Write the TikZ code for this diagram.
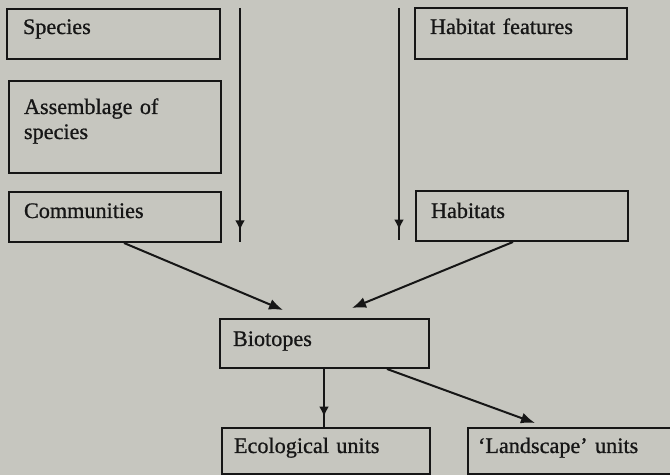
\documentclass[tikz,border=0pt]{standalone}
\usepackage{fontspec}
\usepackage{tikz}
\usetikzlibrary{arrows.meta,calc,decorations.markings}
\newfontfamily\unitfont{Liberation Serif}[FakeBold=0.8]
\definecolor{paper}{RGB}{198,198,191}
\definecolor{ink}{RGB}{22,22,22}
\tikzset{
  unitbox/.style={draw=ink, line width=1pt, anchor=north west, align=left,
    inner ysep=0pt, inner xsep=7.5pt, text width=91pt,
    text height=13pt, text depth=12pt, text=ink,
    font=\unitfont\fontsize{11.1}{12.5}\selectfont},
  flow/.style={draw=ink, line width=1pt, -{Latex[length=7pt,width=5.5pt]}},
  midflow/.style={draw=ink, line width=1pt, postaction={decorate},
    decoration={markings, mark=at position #1 with {\arrow{Latex[length=5pt,width=5pt]}}}}
}
\begin{document}
\begin{tikzpicture}[x=0.5pt,y=-0.5pt]
\fill[paper] (0,0) rectangle (670,475);
\useasboundingbox (0,0) rectangle (670,475);

% biological side
\node[unitbox, inner xsep=8pt, text width=90.5pt, text height=12.5pt, text depth=12.5pt] (species) at (6,8) {Species};
\node[unitbox, text height=16.5pt, text depth=29.5pt] (assem) at (8,80) {Assemblage of\\species};
\node[unitbox] (comm) at (8,191) {Communities};

% physical side
\node[unitbox, text depth=12.5pt] (habf) at (414,7) {Habitat features};
\node[unitbox, text height=13.5pt, text depth=11.5pt] (habs) at (415,190) {Habitats};

% combined units
\node[unitbox, inner xsep=6.5pt, text width=91.5pt, text height=13.5pt, text depth=11pt] (bio) at (219,318) {Biotopes};
\node[unitbox, inner xsep=6pt, text width=92pt, text height=12.5pt, text depth=10.5pt] (eco) at (221,427) {Ecological units};
\node[unitbox, inner xsep=5pt, text width=100pt, text height=12.5pt, text depth=10.5pt] (land) at (467,427) {‘Landscape’ units};

% scale lines
\coordinate (ltop) at (240,8);
\coordinate (lbot) at (240,242);
\coordinate (rtop) at (399,8);
\coordinate (rbot) at (399,240);
\draw[midflow=0.95] (ltop) -- (lbot);
\draw[midflow=0.955] (rtop) -- (rbot);

% arrows
\draw[flow] ($(comm.south)+(9,0)$) -- ($(bio.north west)+(64,-8)$);
\draw[flow] ($(habs.south)+(-9,0)$) -- ($(bio.north west)+(133,-10)$);
\draw[midflow=0.82] ($(bio.south west)+(105,0)$) -- ($(eco.north west)+(103,0)$);
\draw[flow] ($(bio.south west)+(168,0)$) -- ($(land.north west)+(68,-4)$);
\end{tikzpicture}
\end{document}
